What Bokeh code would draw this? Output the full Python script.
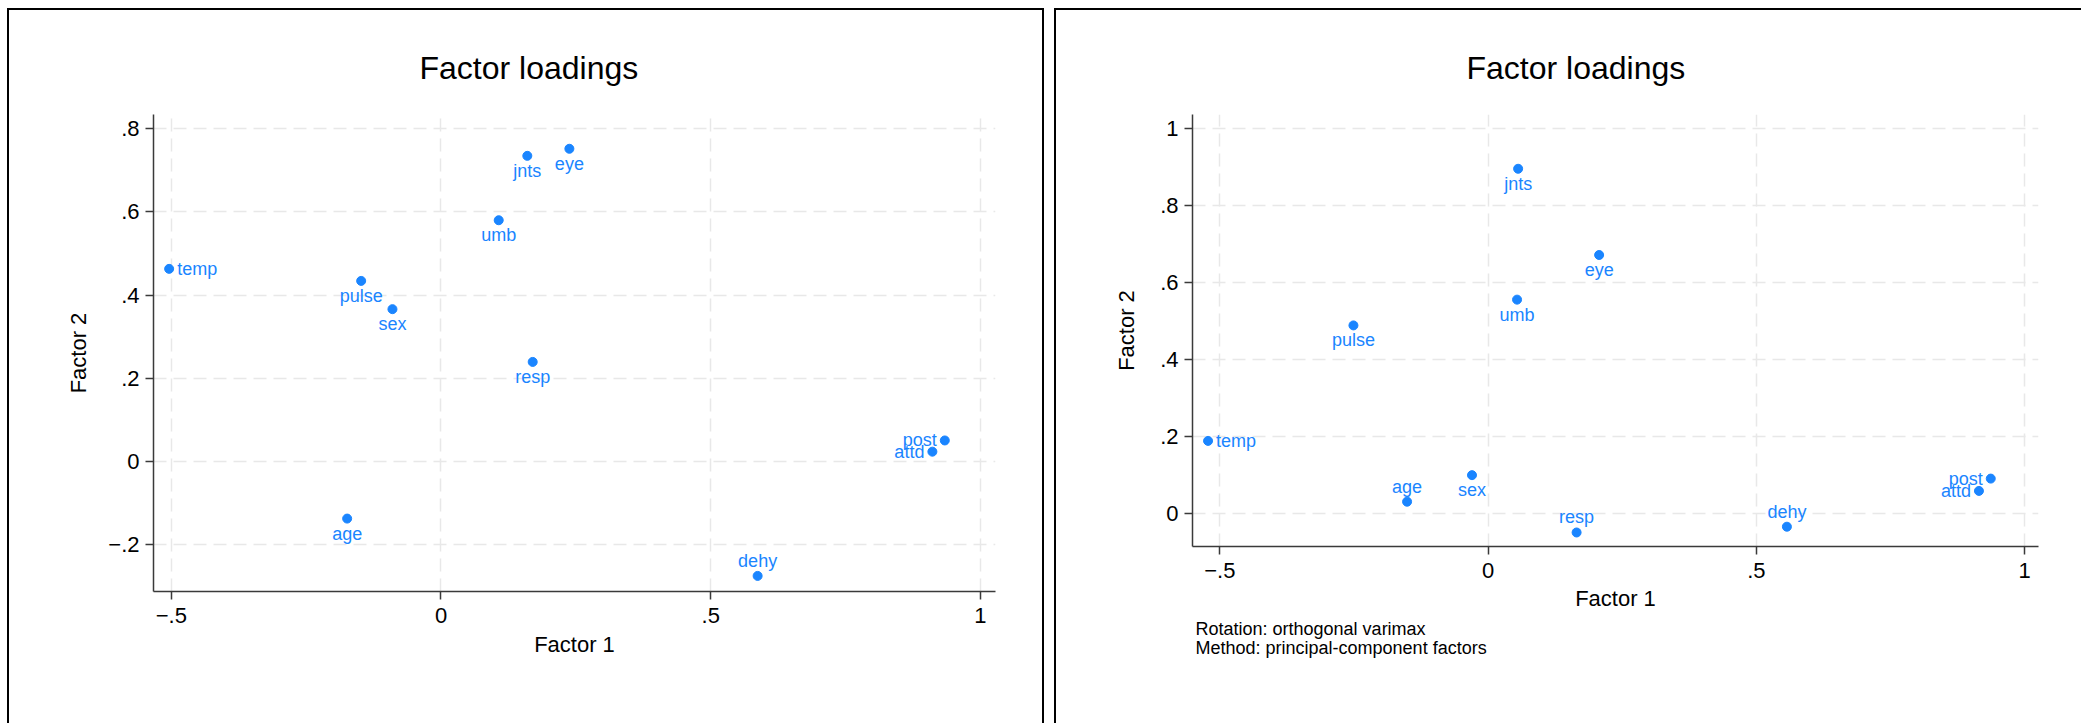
from bokeh.plotting import figure
from bokeh.layouts import row
from bokeh.models import ColumnDataSource, FixedTicker, Title, Range1d
from bokeh.core.properties import value
from bokeh.embed import file_html
from bokeh.resources import INLINE

# ---------------- data ----------------
variables = ["age", "sex", "pulse", "temp", "resp", "dehy", "umb", "jnts", "eye", "attd", "post"]

unrot_factor1 = [-0.174, -0.090, -0.148, -0.504, 0.170, 0.587, 0.107, 0.160, 0.238, 0.911, 0.934]
unrot_factor2 = [-0.138, 0.366, 0.434, 0.463, 0.239, -0.276, 0.580, 0.735, 0.752, 0.023, 0.050]

rot_factor1 = [-0.151, -0.030, -0.251, -0.522, 0.165, 0.557, 0.054, 0.056, 0.207, 0.915, 0.937]
rot_factor2 = [0.031, 0.100, 0.489, 0.189, -0.049, -0.034, 0.556, 0.896, 0.672, 0.059, 0.091]

x_ticks = [-0.5, 0, 0.5, 1]
x_tick_labels = ["\u2212.5", "0", ".5", "1"]
left_y_ticks = [-0.2, 0, 0.2, 0.4, 0.6, 0.8]
left_y_tick_labels = ["\u2212.2", "0", ".2", ".4", ".6", ".8"]
right_y_ticks = [0, 0.2, 0.4, 0.6, 0.8, 1]
right_y_tick_labels = ["0", ".2", ".4", ".6", ".8", "1"]

title_text = "Factor loadings"
x_title = "Factor 1"
y_title = "Factor 2"
note_text = "Rotation: orthogonal varimax\nMethod: principal-component factors"

# marker-label clock positions (style)
left_label_pos = [6, 6, 6, 3, 6, 12, 6, 6, 6, 9, 9]
right_label_pos = [12, 6, 6, 3, 12, 12, 6, 6, 6, 9, 9]

# ---------------- style ----------------
FONT = "Liberation Sans"
BLUE = "#1a85ff"
AXIS = "#3a3a3a"
GRID = "#e8e8e8"
PANEL_H = 715


def make_panel(f1, f2, pos, yticks, ylabels, xr, yr, mb, border_css, note=None):
    p = figure(width=mb["w"], height=PANEL_H, output_backend="svg", toolbar_location=None,
               x_range=Range1d(*xr), y_range=Range1d(*yr),
               min_border_left=mb["l"], min_border_right=mb["r"],
               min_border_top=mb["t"], min_border_bottom=mb["b"],
               background_fill_color="white", border_fill_color="white",
               styles=border_css)
    p.frame_align = False
    p.outline_line_color = None

    p.title.text = title_text
    p.title.align = "left"
    p.title.offset = mb["title_offset"]
    p.title.text_font = FONT
    p.title.text_font_size = "32px"
    p.title.text_font_style = "normal"
    p.title.text_color = "black"
    p.title.standoff = 57

    p.xaxis.ticker = FixedTicker(ticks=x_ticks)
    p.yaxis.ticker = FixedTicker(ticks=yticks)
    p.xaxis.major_label_overrides = {t: l for t, l in zip(x_ticks, x_tick_labels)}
    p.yaxis.major_label_overrides = {t: l for t, l in zip(yticks, ylabels)}
    p.xaxis.axis_label = x_title
    p.yaxis.axis_label = y_title
    for ax in (p.xaxis, p.yaxis):
        ax.axis_line_color = AXIS
        ax.axis_line_width = 1.5
        ax.major_tick_line_color = AXIS
        ax.major_tick_line_width = 1.5
        ax.major_tick_out = 8
        ax.major_tick_in = 0
        ax.minor_tick_out = 0
        ax.minor_tick_in = 0
        ax.major_label_text_font = FONT
        ax.major_label_text_font_size = "22px"
        ax.major_label_text_color = "black"
        ax.axis_label_text_font = FONT
        ax.axis_label_text_font_size = "22px"
        ax.axis_label_text_font_style = "normal"
        ax.axis_label_text_color = "black"
    p.xaxis.major_label_standoff = 8
    p.xaxis.axis_label_standoff = mb["xlab"]
    p.yaxis.major_label_standoff = 6
    p.yaxis.axis_label_standoff = mb["ylab"]

    for g in (p.xgrid, p.ygrid):
        g.grid_line_color = GRID
        g.grid_line_width = 1.5
        g.grid_line_dash = "13 7"

    src = ColumnDataSource(dict(x=f1, y=f2, name=variables))
    p.scatter("x", "y", source=src, size=9, fill_color=BLUE, line_color=BLUE)

    specs = {
        3: dict(text_align="left", text_baseline="middle", x_offset=8, y_offset=0),
        9: dict(text_align="right", text_baseline="middle", x_offset=-8, y_offset=0),
        6: dict(text_align="center", text_baseline="top", x_offset=0, y_offset=5),
        12: dict(text_align="center", text_baseline="bottom", x_offset=0, y_offset=-5),
    }
    for k, spec in specs.items():
        idx = [i for i, q in enumerate(pos) if q == k]
        if not idx:
            continue
        s = ColumnDataSource(dict(x=[f1[i] for i in idx], y=[f2[i] for i in idx],
                                  name=[variables[i] for i in idx]))
        p.text("x", "y", text="name", source=s, text_color=BLUE,
               text_font=value(FONT), text_font_size="18px", **spec)

    if note:
        t = Title(text=note, align="left", text_font=FONT, text_font_size="18px",
                  text_font_style="normal", text_color="black",
                  text_line_height=0.95, standoff=6, offset=3)
        p.add_layout(t, "below")
    return p


left_margins = dict(w=1037, l=144, r=51, t=104, b=134, xlab=6, ylab=14, title_offset=266)
right_margins = dict(w=1027, l=136, r=45, t=104, b=179, xlab=5, ylab=18, title_offset=274)

p1 = make_panel(unrot_factor1, unrot_factor2, left_label_pos, left_y_ticks, left_y_tick_labels,
                (-0.533, 1.028), (-0.3135, 0.8345), left_margins,
                {"border-top": "2px solid black", "border-left": "2px solid black",
                 "border-right": "2px solid black"})
p2 = make_panel(rot_factor1, rot_factor2, right_label_pos, right_y_ticks, right_y_tick_labels,
                (-0.551, 1.026), (-0.0854, 1.037), right_margins,
                {"border-top": "2px solid black", "border-left": "2px solid black"},
                note=note_text)

layout = row(p1, p2, spacing=10, styles={"margin-left": "7px", "margin-top": "8px"})

open("out.html", "w").write(file_html(layout, INLINE))
